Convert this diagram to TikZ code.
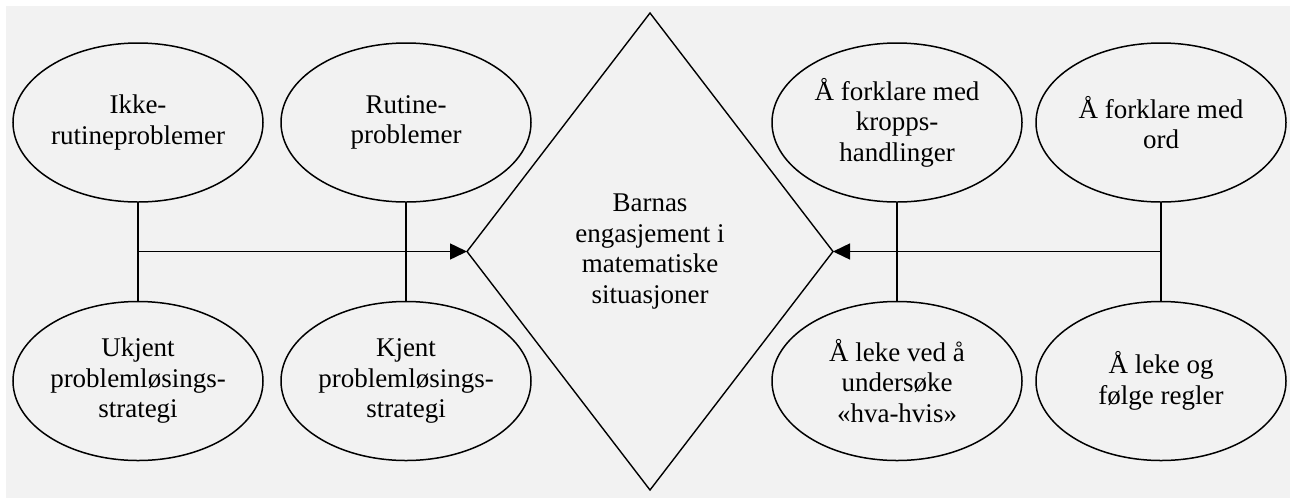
\documentclass[tikz,border=0pt]{standalone}
\usepackage{fontspec}
\setmainfont{Liberation Serif}
\usetikzlibrary{shapes.geometric,arrows.meta}
\definecolor{bggray}{HTML}{F2F2F2}
\tikzset{
  oval/.style={ellipse, draw=black, line width=1.5pt, minimum width=250pt, minimum height=159pt,
    inner sep=0pt, outer sep=0pt, align=center, font=\fontsize{27}{30.5}\selectfont},
  centre/.style={diamond, draw=black, line width=1.4pt, minimum width=366pt, minimum height=477pt,
    inner sep=0pt, outer sep=0pt, align=center, font=\fontsize{27}{30.5}\selectfont},
  link/.style={draw=black, line width=1.5pt},
  arr/.style={link, -{Triangle[length=17pt,width=16pt]}}
}
\begin{document}
\begin{tikzpicture}[x=1pt,y=-1pt]
\useasboundingbox (0,0) rectangle (1290,499);
\fill[bggray] (6,6) rectangle (1290,498);
\node[centre] (d) at (650,251.5) {Barnas\\engasjement i\\matematiske\\situasjoner};
\node[oval] (ik) at (138,122.5) {Ikke-\\rutineproblemer};
\node[oval] (ru) at (406,122.5) {Rutine-\\problemer};
\node[oval] (uk) at (138,381) {Ukjent\\problemløsings-\\strategi};
\node[oval] (kj) at (406,381) {Kjent\\problemløsings-\\strategi};
\node[oval] (kr) at (897,122.5) {Å forklare med\\kropps-\\handlinger};
\node[oval] (or) at (1161,122.5) {Å forklare med\\ord};
\node[oval] (hv) at (897,381) {Å leke ved å\\undersøke\\«hva-hvis»};
\node[oval] (re) at (1161,381) {Å leke og\\følge regler};
\draw[link] (ik.south) -- (uk.north);
\draw[link] (ru.south) -- (kj.north);
\draw[link] (kr.south) -- (hv.north);
\draw[link] (or.south) -- (re.north);
\coordinate (lj) at (ik.south |- d.west);
\coordinate (rj) at (or.south |- d.east);
\draw[arr] (lj) -- (d.west);
\draw[arr] (rj) -- (d.east);
\end{tikzpicture}
\end{document}
